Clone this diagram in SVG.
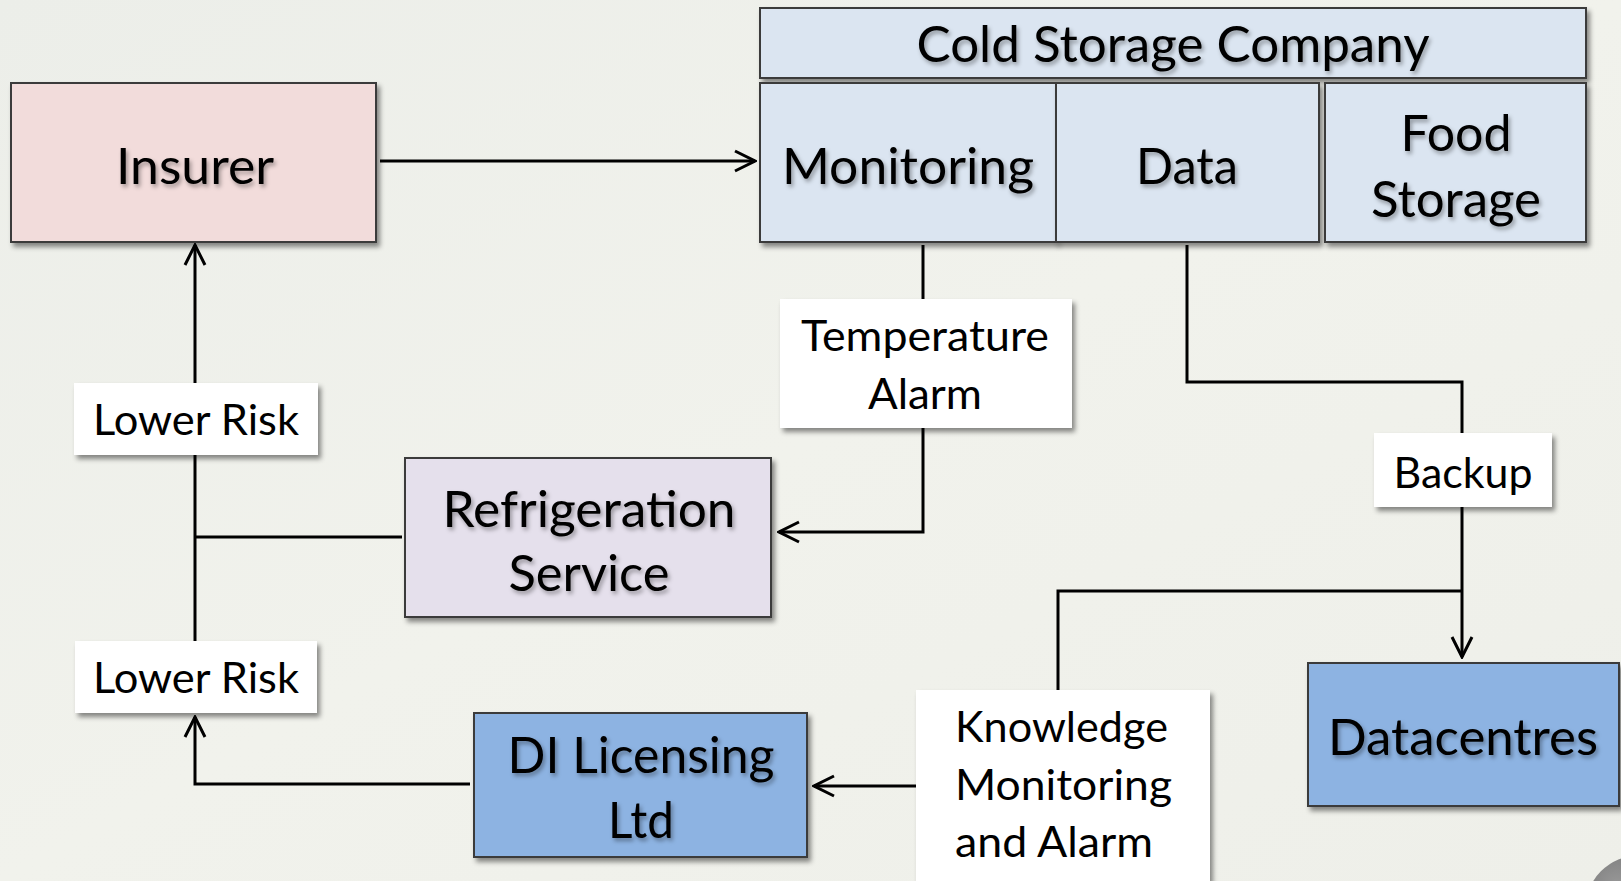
<svg xmlns="http://www.w3.org/2000/svg" width="1621" height="881" viewBox="0 0 1621 881">
  <defs>
    <linearGradient id="bg" x1="0" y1="0" x2="1" y2="1">
      <stop offset="0" stop-color="#eceee9"/>
      <stop offset="0.5" stop-color="#f1f2ec"/>
      <stop offset="1" stop-color="#eeefe9"/>
    </linearGradient>
    <radialGradient id="ball" cx="0.3" cy="0.3" r="0.8">
      <stop offset="0" stop-color="#9a9a9a"/>
      <stop offset="1" stop-color="#5a5a5a"/>
    </radialGradient>
    <filter id="shadow" x="-10%" y="-10%" width="130%" height="130%">
      <feDropShadow dx="3" dy="4" stdDeviation="2.5" flood-color="#000" flood-opacity="0.45"/>
    </filter>
    <filter id="tshadow" x="-5%" y="-10%" width="115%" height="140%">
      <feDropShadow dx="2" dy="3" stdDeviation="2" flood-color="#000" flood-opacity="0.35"/>
    </filter>
    <marker id="arrow" viewBox="0 0 24 24" refX="22" refY="12" markerWidth="24" markerHeight="24" markerUnits="userSpaceOnUse" orient="auto">
      <path d="M2,2 L22,12 L2,22" fill="none" stroke="#000" stroke-width="3"/>
    </marker>
    <style>
      .box { stroke: #3a3a3a; stroke-width: 2; filter: url(#shadow); }
      .lbl { fill: #ffffff; stroke: none; filter: url(#shadow); }
      .big { font-family: Lato, "Open Sans", "Liberation Sans", sans-serif; font-size: 50px; fill: #000; text-anchor: middle; filter: url(#tshadow); }
      .small { font-family: Lato, "Open Sans", "Liberation Sans", sans-serif; font-size: 42px; fill: #000; text-anchor: middle; }
      .conn { fill: none; stroke: #000; stroke-width: 3; }
    </style>
  </defs>

  <rect x="0" y="0" width="1621" height="881" fill="url(#bg)"/>
  <circle cx="1640" cy="910" r="55" fill="url(#ball)"/>

  <g id="connectors">
    <line class="conn" x1="380" y1="161" x2="755" y2="161" marker-end="url(#arrow)"/>
    <line class="conn" x1="195" y1="383" x2="195" y2="245" marker-end="url(#arrow)"/>
    <line class="conn" x1="195" y1="455" x2="195" y2="641"/>
    <line class="conn" x1="195" y1="537" x2="402" y2="537"/>
    <path class="conn" d="M470,784 L195,784 L195,717" marker-end="url(#arrow)"/>
    <line class="conn" x1="923" y1="245" x2="923" y2="299"/>
    <path class="conn" d="M923,428 L923,532 L779,532" marker-end="url(#arrow)"/>
    <path class="conn" d="M1187,245 L1187,382 L1462,382 L1462,433"/>
    <line class="conn" x1="1462" y1="507" x2="1462" y2="657" marker-end="url(#arrow)"/>
    <path class="conn" d="M1058,690 L1058,591 L1462,591"/>
    <line class="conn" x1="916" y1="786" x2="814" y2="786" marker-end="url(#arrow)"/>
  </g>

  <g id="cold-storage-company">
    <rect class="box" x="760" y="8" width="826" height="70" fill="#dbe5f1"/>
    <text class="big" x="1173" y="62" textLength="513" lengthAdjust="spacingAndGlyphs">Cold Storage Company</text>
  </g>
  <g id="monitoring">
    <rect class="box" x="760" y="83" width="296" height="159" fill="#dbe5f1"/>
    <text class="big" x="908" y="184" textLength="252" lengthAdjust="spacingAndGlyphs">Monitoring</text>
  </g>
  <g id="data">
    <rect class="box" x="1056" y="83" width="263" height="159" fill="#dbe5f1"/>
    <text class="big" x="1187" y="184" textLength="102" lengthAdjust="spacingAndGlyphs">Data</text>
  </g>
  <g id="food-storage">
    <rect class="box" x="1325" y="83" width="261" height="159" fill="#dbe5f1"/>
    <text class="big" x="1456" y="151" textLength="111" lengthAdjust="spacingAndGlyphs">Food</text>
    <text class="big" x="1456" y="217" textLength="170" lengthAdjust="spacingAndGlyphs">Storage</text>
  </g>
  <g id="insurer">
    <rect class="box" x="11" y="83" width="365" height="159" fill="#f2dcdb"/>
    <text class="big" x="195" y="184" textLength="158" lengthAdjust="spacingAndGlyphs">Insurer</text>
  </g>
  <g id="temperature-alarm">
    <rect class="lbl" x="780" y="299" width="292" height="129"/>
    <text class="small" x="925" y="351" textLength="248" lengthAdjust="spacingAndGlyphs">Temperature</text>
    <text class="small" x="925" y="409" textLength="114" lengthAdjust="spacingAndGlyphs">Alarm</text>
  </g>
  <g id="refrigeration-service">
    <rect class="box" x="405" y="458" width="366" height="159" fill="#e5e0ec"/>
    <text class="big" x="589" y="527" textLength="293" lengthAdjust="spacingAndGlyphs">Refrigeration</text>
    <text class="big" x="589" y="591" textLength="161" lengthAdjust="spacingAndGlyphs">Service</text>
  </g>
  <g id="lower-risk-1">
    <rect class="lbl" x="74" y="383" width="244" height="72"/>
    <text class="small" x="196" y="435" textLength="206" lengthAdjust="spacingAndGlyphs">Lower Risk</text>
  </g>
  <g id="lower-risk-2">
    <rect class="lbl" x="75" y="641" width="242" height="72"/>
    <text class="small" x="196" y="693" textLength="206" lengthAdjust="spacingAndGlyphs">Lower Risk</text>
  </g>
  <g id="di-licensing">
    <rect class="box" x="474" y="713" width="333" height="144" fill="#8db3e2"/>
    <text class="big" x="641" y="773" textLength="267" lengthAdjust="spacingAndGlyphs">DI Licensing</text>
    <text class="big" x="641" y="838" textLength="66" lengthAdjust="spacingAndGlyphs">Ltd</text>
  </g>
  <g id="backup">
    <rect class="lbl" x="1374" y="433" width="178" height="74"/>
    <text class="small" x="1463" y="488" textLength="139" lengthAdjust="spacingAndGlyphs">Backup</text>
  </g>
  <g id="datacentres">
    <rect class="box" x="1308" y="663" width="311" height="143" fill="#8db3e2"/>
    <text class="big" x="1463" y="755" textLength="270" lengthAdjust="spacingAndGlyphs">Datacentres</text>
  </g>
  <g id="knowledge-monitoring-alarm">
    <rect class="lbl" x="916" y="690" width="294" height="191"/>
    <text class="small" x="955" y="742" text-anchor="start" style="text-anchor:start" textLength="213" lengthAdjust="spacingAndGlyphs">Knowledge</text>
    <text class="small" x="955" y="800" style="text-anchor:start" textLength="217" lengthAdjust="spacingAndGlyphs">Monitoring</text>
    <text class="small" x="955" y="857" style="text-anchor:start" textLength="198" lengthAdjust="spacingAndGlyphs">and Alarm</text>
  </g>
</svg>
